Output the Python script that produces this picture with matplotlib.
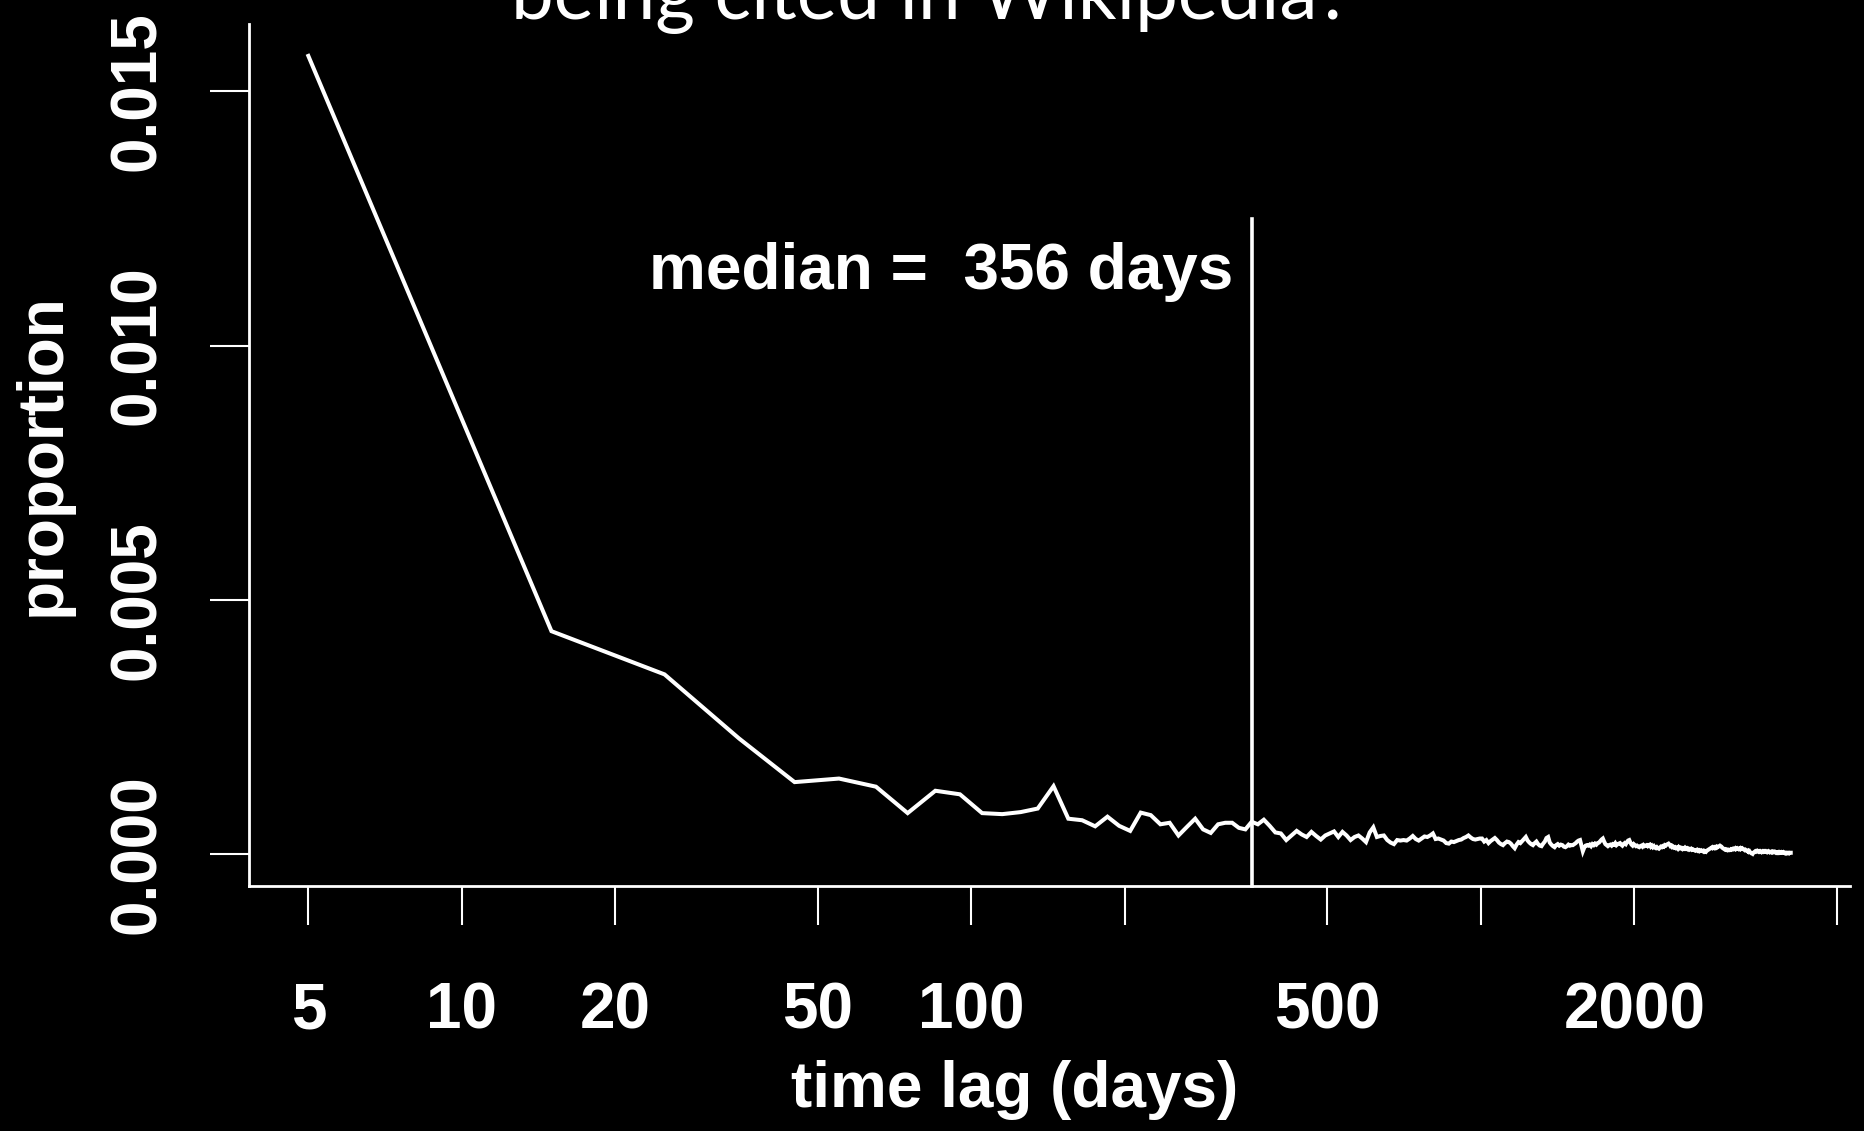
import numpy as np
import matplotlib
matplotlib.use('Agg')
import matplotlib.pyplot as plt
from matplotlib.ticker import NullLocator

plt.rcParams['font.family'] = ['Liberation Sans', 'DejaVu Sans']

# citation time lag, proportion per day in 10-day bins (bin centres 5, 15, 25, ...)
BIN_WIDTH = 10
MEDIAN_DAYS = 356

# bins 5 .. 365 days
prop_first_year = [
    0.01570, 0.00438, 0.00353, 0.00227, 0.00141, 0.00148, 0.00132, 0.00080, 0.00124, 0.00117,
    0.00080, 0.00078, 0.00082, 0.00089, 0.00133, 0.00069, 0.00066, 0.00054, 0.00073, 0.00055,
    0.00045, 0.00081, 0.00076, 0.00058, 0.00061, 0.00036, 0.00053, 0.00069, 0.00048, 0.00041,
    0.00058, 0.00061, 0.00061, 0.00051, 0.00048, 0.00063, 0.00058,
]

# bins 375 .. 1005 days
prop_mid = [
    0.00067, 0.00055, 0.00042,
    0.00040, 0.00027, 0.00036, 0.00045, 0.00038, 0.00033, 0.00043, 0.00035, 0.00028, 0.00036,
    0.00040, 0.00044, 0.00033, 0.00043, 0.00036, 0.00027, 0.00033, 0.00036, 0.00030, 0.00023,
    0.00042, 0.00052, 0.00033, 0.00035, 0.00036, 0.00027, 0.00022, 0.00019, 0.00027, 0.00026,
    0.00027, 0.00026, 0.00030, 0.00035, 0.00029, 0.00026, 0.00030, 0.00034, 0.00033, 0.00036,
    0.00040, 0.00029, 0.00030, 0.00028, 0.00026, 0.00021, 0.00020, 0.00024, 0.00023, 0.00025,
    0.00027, 0.00028, 0.00031, 0.00033, 0.00036, 0.00032, 0.00029, 0.00028, 0.00029, 0.00030,
    0.00030,
]

# bins 1015 .. 4055 days
prop_tail = [
    0.00024, 0.00027, 0.00021, 0.00025, 0.00028, 0.00031, 0.00027, 0.00022, 0.00019, 0.00017,
    0.00021, 0.00024, 0.00023, 0.00020, 0.00015, 0.00011, 0.00018, 0.00023, 0.00021, 0.00025,
    0.00029, 0.00033, 0.00026, 0.00022, 0.00019, 0.00017, 0.00021, 0.00024, 0.00019, 0.00016,
    0.00015, 0.00020, 0.00024, 0.00031, 0.00033, 0.00022, 0.00018, 0.00015, 0.00013, 0.00017,
    0.00019, 0.00016, 0.00018, 0.00017, 0.00014, 0.00013, 0.00015, 0.00018, 0.00016, 0.00017,
    0.00017, 0.00019, 0.00021, 0.00024, 0.00026, 0.00027, 0.00016, 0.00005, 0.00012, 0.00016,
    0.00017, 0.00016, 0.00018, 0.00015, 0.00019, 0.00017, 0.00020, 0.00018, 0.00021, 0.00022,
    0.00025, 0.00028, 0.00030, 0.00024, 0.00019, 0.00017, 0.00015, 0.00017, 0.00018, 0.00016,
    0.00019, 0.00018, 0.00021, 0.00017, 0.00019, 0.00020, 0.00021, 0.00018, 0.00016, 0.00019,
    0.00021, 0.00019, 0.00023, 0.00026, 0.00027, 0.00022, 0.00018, 0.00016, 0.00019, 0.00017,
    0.00015, 0.00016, 0.00014, 0.00013, 0.00015, 0.00016, 0.00014, 0.00017, 0.00015, 0.00016,
    0.00017, 0.00015, 0.00017, 0.00018, 0.00014, 0.00016, 0.00013, 0.00015, 0.00012, 0.00011,
    0.00013, 0.00011, 0.00010, 0.00012, 0.00014, 0.00013, 0.00015, 0.00014, 0.00017, 0.00016,
    0.00018, 0.00019, 0.00020, 0.00018, 0.00015, 0.00016, 0.00013, 0.00014, 0.00012, 0.00013,
    0.00011, 0.00012, 0.00010, 0.00013, 0.00011, 0.00012, 0.00010, 0.00009, 0.00011, 0.00010,
    0.00012, 0.00010, 0.00011, 0.00009, 0.00010, 0.00008, 0.00009, 0.00010, 0.00008, 0.00009,
    0.00008, 0.00007, 0.00006, 0.00007, 0.00008, 0.00006, 0.00007, 0.00005, 0.00006, 0.00007,
    0.00006, 0.00005, 0.00006, 0.00004, 0.00005, 0.00004, 0.00006, 0.00007, 0.00008, 0.00009,
    0.00010, 0.00011, 0.00012, 0.00011, 0.00013, 0.00012, 0.00011, 0.00013, 0.00012, 0.00014,
    0.00013, 0.00014, 0.00015, 0.00016, 0.00015, 0.00014, 0.00012, 0.00011, 0.00010, 0.00009,
    0.00008, 0.00009, 0.00008, 0.00007, 0.00008, 0.00007, 0.00007, 0.00008, 0.00009, 0.00008,
    0.00009, 0.00010, 0.00009, 0.00010, 0.00011, 0.00009, 0.00010, 0.00011, 0.00010, 0.00009,
    0.00010, 0.00009, 0.00011, 0.00010, 0.00011, 0.00010, 0.00009, 0.00008, 0.00007, 0.00008,
    0.00007, 0.00006, 0.00005, 0.00006, 0.00004, 0.00005, 0.00003, 0.00002, 0.00001, 0.00001,
    0.00000, 0.00002, 0.00003, 0.00004, 0.00005, 0.00004, 0.00005, 0.00006, 0.00005, 0.00004,
    0.00005, 0.00004, 0.00005, 0.00004, 0.00003, 0.00004, 0.00005, 0.00004, 0.00005, 0.00004,
    0.00004, 0.00005, 0.00004, 0.00003, 0.00004, 0.00005, 0.00004, 0.00003, 0.00004, 0.00004,
    0.00003, 0.00004, 0.00003, 0.00004, 0.00003, 0.00003, 0.00004, 0.00003, 0.00002, 0.00003,
    0.00003, 0.00002, 0.00003, 0.00002, 0.00003, 0.00002, 0.00002, 0.00003, 0.00002, 0.00002,
    0.00002, 0.00003, 0.00002, 0.00002, 0.00001, 0.00002, 0.00002, 0.00001, 0.00002, 0.00002,
    0.00002, 0.00001, 0.00002, 0.00002, 0.00002,
]

x_ticks = [5, 10, 20, 50, 100, 200, 500, 1000, 2000, 5000]
x_tick_labels = ['5', '10', '20', '50', '100', '', '500', '', '2000', '']
y_ticks = [0.000, 0.005, 0.010, 0.015]
y_tick_labels = ['0.000', '0.005', '0.010', '0.015']

prop = np.array(prop_first_year + prop_mid + prop_tail)
days = BIN_WIDTH // 2 + BIN_WIDTH * np.arange(len(prop))

FS = 46
fig = plt.figure(figsize=(18.64, 11.31), dpi=100, facecolor='black')
ax = fig.add_axes([0.1336, 0.2169, 0.8589, 0.7619], facecolor='black')

ax.plot(days, prop, color='white', lw=2.9, solid_joinstyle='miter')
ax.set_xscale('log')

# R style 4% padding of the data range
lx = np.log10(days)
xpad = 0.04 * (lx.max() - lx.min())
ax.set_xlim(10 ** (lx.min() - xpad), 10 ** (lx.max() + xpad))
ypad = 0.04 * (prop.max() - prop.min())
ylo = prop.min() - ypad
ax.set_ylim(ylo, prop.max() + ypad)

# median marker
ax.plot([MEDIAN_DAYS, MEDIAN_DAYS], [ylo, 0.0125], color='white', lw=2.6, clip_on=False)
ax.annotate('median =  %d days' % MEDIAN_DAYS, xy=(MEDIAN_DAYS, 0.01145), xytext=(-14, 0),
            textcoords='offset points', ha='right', va='center',
            fontsize=FS, fontweight='bold', color='white')

ax.set_xticks(x_ticks)
ax.set_xticklabels(x_tick_labels)
ax.xaxis.set_minor_locator(NullLocator())
ax.set_yticks(y_ticks)
ax.set_yticklabels(y_tick_labels)

ax.tick_params(axis='both', colors='white', length=28, width=1.5, direction='out', labelsize=FS)
ax.tick_params(axis='x', pad=41)
ax.tick_params(axis='y', pad=30, labelrotation=90)
for lbl in ax.get_xticklabels() + ax.get_yticklabels():
    lbl.set_fontweight('bold')
for lbl in ax.get_yticklabels():
    lbl.set_va('center')

for side in ['top', 'right']:
    ax.spines[side].set_visible(False)
for side in ['left', 'bottom']:
    ax.spines[side].set_color('white')
    ax.spines[side].set_linewidth(2)

ax.set_xlabel('time lag (days)', fontsize=FS, fontweight='bold', color='white')
ax.xaxis.set_label_coords(0.478, -0.2023)
ax.set_ylabel('proportion', fontsize=FS, fontweight='bold', color='white')
ax.yaxis.set_label_coords(-0.110, 0.5)

# second line of the slide title, cut off by the top edge
fig.text(0.4995, 1 - 19 / 1131, 'being cited in Wikipedia?', ha='center', va='baseline',
         fontsize=55, family='Lato', color='white')

fig.savefig('out.png', dpi=100, facecolor='black')
